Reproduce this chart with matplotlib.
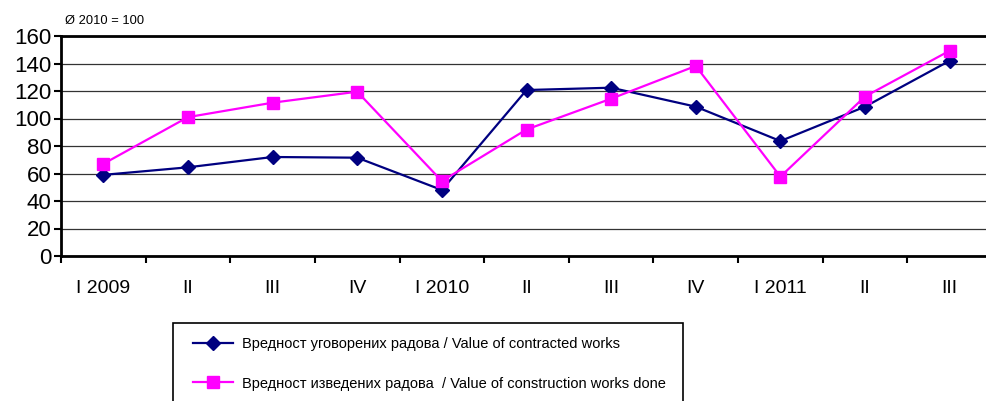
import numpy as np
import matplotlib.pyplot as plt
from matplotlib.patches import Rectangle
from matplotlib.ticker import MultipleLocator, FixedLocator

plt.rcParams['font.family'] = ['Liberation Sans', 'DejaVu Sans']

quarters = ['I 2009', 'II', 'III', 'IV', 'I 2010', 'II', 'III', 'IV', 'I 2011', 'II', 'III']
contracted = [59, 64.5, 72, 71.5, 48, 120.7, 122.4, 108.6, 83.6, 108.6, 142]
done = [67, 101, 111.5, 119.5, 54.5, 92, 114.4, 138.2, 57.7, 116, 149.3]

label_contracted = 'Вредност уговорених радова / Value of contracted works'
label_done = 'Вредност изведених радова  / Value of construction works done'

W, H = 986, 401
fig = plt.figure(figsize=(W / 100, H / 100), dpi=100)
ax = fig.add_axes([61 / W, 145 / H, 931 / W, 220 / H])

x = np.arange(len(quarters))
ax.plot(x, contracted, color='#000080', linewidth=1.6, marker='D', markersize=7.5,
        label=label_contracted, zorder=3)
ax.plot(x, done, color='#FF00FF', linewidth=1.6, marker='s', markersize=9,
        label=label_done, zorder=3)

ax.set_xlim(-0.5, len(quarters) - 0.5)
ax.set_ylim(0, 160)
ax.yaxis.set_major_locator(MultipleLocator(20))
ax.grid(axis='y', color='#333333', linewidth=0.9)
ax.set_axisbelow(True)

ax.set_xticks(x)
ax.set_xticklabels(quarters, fontsize=14)
ax.xaxis.set_minor_locator(FixedLocator(np.arange(-0.5, len(quarters), 1.0)))
ax.tick_params(axis='x', which='major', length=0, pad=17)
ax.tick_params(axis='x', which='minor', length=5, width=1.5, direction='out')
ax.tick_params(axis='y', labelsize=16, length=5, width=1.5, pad=2)

for side in ['left', 'bottom', 'top']:
    ax.spines[side].set_linewidth(2)
ax.spines['right'].set_visible(False)

fig.text(65 / W, 1 - 20.5 / H, 'Ø 2010 = 100', fontsize=9.3, va='center', ha='left')

# legend frame (bottom edge falls outside the picture, as in the source)
fig.patches.append(Rectangle((173 / W, -0.05), 510 / W, 0.05 + (H - 323) / H,
                             transform=fig.transFigure, fill=False,
                             edgecolor='black', linewidth=1.2))
fig.legend(loc='upper left', bbox_to_anchor=(193 / W, 1 - 337 / H),
           fontsize=10.5, frameon=False, labelspacing=1.75,
           handlelength=2.75, handletextpad=0.6, borderpad=0, borderaxespad=0)

fig.savefig('out.png', dpi=100, facecolor='white')
